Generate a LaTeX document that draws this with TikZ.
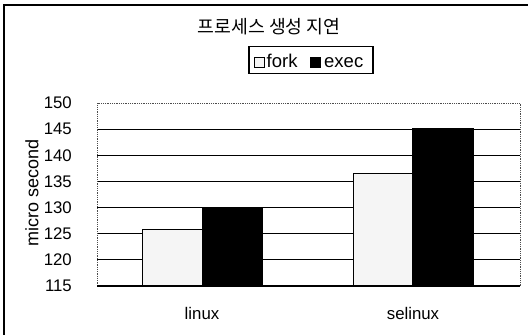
\documentclass[tikz,border=0pt]{standalone}
\usepackage{fontspec}
\setmainfont{Liberation Sans}
\newfontfamily\krfont{Noto Sans CJK KR}
\begin{document}
\begin{tikzpicture}[x=1pt,y=-1pt,
  declare function={yv(\v)=286-(\v-115)*5.2286;},
  grid/.style={line width=1pt,black},
  forkbar/.style={draw=black,line width=1pt,fill=black!4},
  execbar/.style={draw=black,line width=1pt,fill=black},
  tick/.style={anchor=east,inner sep=0pt,font=\fontsize{16.8}{18}\selectfont},
  cat/.style={inner sep=0pt,font=\fontsize{16.8}{18}\selectfont},
  leg/.style={anchor=base west,inner sep=0pt,font=\fontsize{18.5}{20}\selectfont}]
\useasboundingbox (0,0) rectangle (528,335);
\fill[white] (0,0) rectangle (528,335);
% outer frame (cropped)
\draw[line width=1.3pt] (4,335) -- (4,5) -- (528,5);
% title
\node[inner sep=0pt,font=\krfont\fontsize{18.3}{20}\selectfont] (title) at (269,27) {프로세스 생성 지연};
% legend
\node[draw=black,line width=1.1pt,minimum width=124pt,minimum height=27pt,inner sep=0pt] (legend) at (311,60) {};
\node[draw=black,line width=1pt,fill=black!4,minimum size=10pt,inner sep=0pt] (lfork) at (259,62) {};
\node[leg] (tfork) at (266.5,67.3) {fork};
\node[draw=black,line width=1pt,fill=black,minimum size=10pt,inner sep=0pt] (lexec) at (315.7,62) {};
\node[leg] (texec) at (324,67.3) {exec};
% gridlines
\foreach \v in {120,125,...,145}{\draw[grid] (97,{yv(\v)}) -- (520,{yv(\v)});}
% plot border
\draw[black!70,densely dotted,line width=0.8pt] (97,{yv(115)}) -- (97,{yv(150)}) -- (520,{yv(150)}) -- (520,{yv(115)});
% bars
\draw[forkbar] (142,{yv(115)}) rectangle (202,{yv(125.8)});
\draw[execbar] (202,{yv(115)}) rectangle (262,{yv(130)});
\draw[forkbar] (353,{yv(115)}) rectangle (412,{yv(136.6)});
\draw[execbar] (412,{yv(115)}) rectangle (473,{yv(145.1)});
% axis
\draw[line width=1.2pt] (97,{yv(115)}) -- (520,{yv(115)});
% tick labels
\foreach \v in {115,120,...,150}{\node[tick] (t\v) at (72,{yv(\v)}) {\v};}
% axis title
\node[rotate=90,inner sep=0pt,font=\fontsize{18}{20}\selectfont] (ylab) at (32,193) {micro second};
% categories
\node[cat] (clinux) at (202,313) {linux};
\node[cat] (cselinux) at (413,313) {selinux};
\end{tikzpicture}
\end{document}
